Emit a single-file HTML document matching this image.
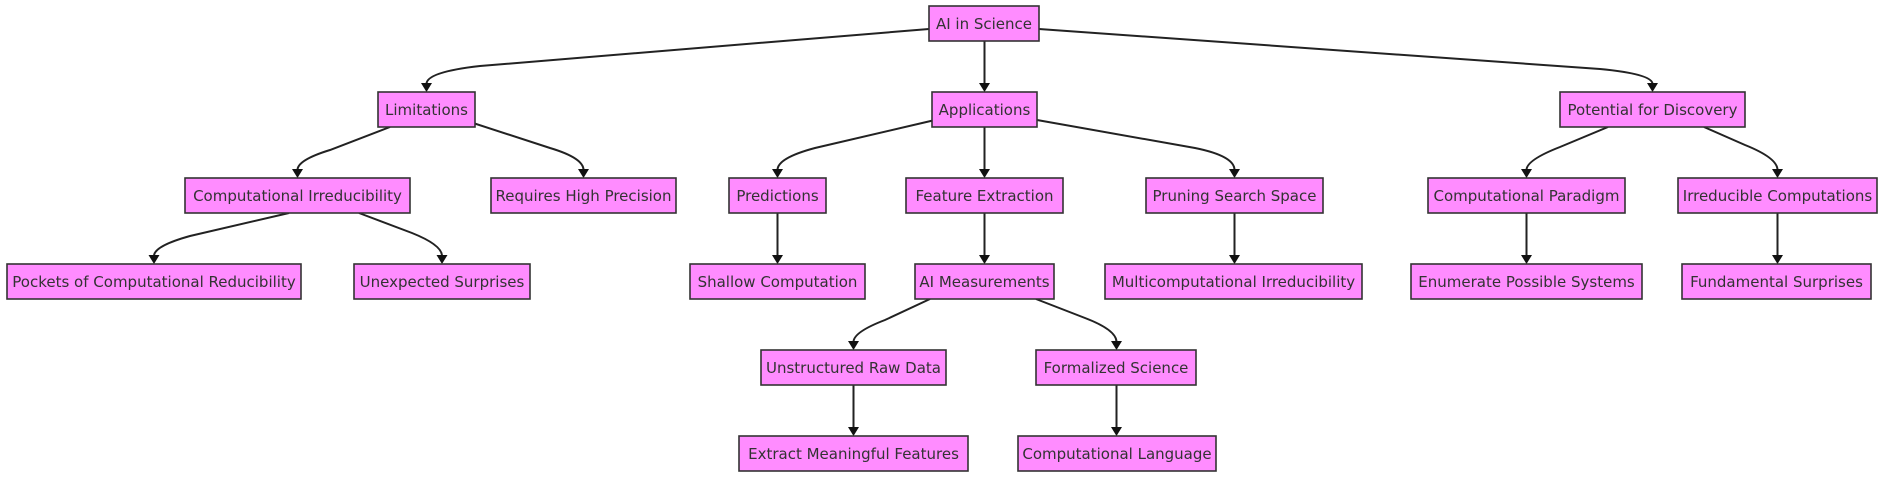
<!DOCTYPE html>
<html><head><meta charset="utf-8"><style>
html,body{margin:0;padding:0;background:#fff;}
svg{display:block;}
text{font-family:"DejaVu Sans","Liberation Sans",sans-serif;font-size:15px;fill:#333;text-anchor:middle;dominant-baseline:central;}
rect{fill:#ff8cff;stroke:#333;stroke-width:1.6;}
path.e{fill:none;stroke:#222;stroke-width:2;}
polygon{fill:#111;}
</style></head><body>
<svg width="1887" height="480" viewBox="0 0 1887 480">
<!-- edges -->
<path class="e" d="M929,29 L480,66 Q426.5,72 426.5,84"/><polygon points="421,83 432,83 426.5,92"/>
<path class="e" d="M1039,29 L1600,69 Q1652.5,74 1652.5,84"/><polygon points="1647,83 1658,83 1652.5,92"/>
<path class="e" d="M984.5,41 L984.5,84"/><polygon points="979,83 990,83 984.5,92"/>

<path class="e" d="M390,127 L330,150 Q297.5,160 297.5,170"/><polygon points="292,169 303,169 297.5,178"/>
<path class="e" d="M470,122 L550,148 Q583.5,158 583.5,170"/><polygon points="578,169 589,169 583.5,178"/>
<path class="e" d="M935,120 L815,148 Q777.5,158 777.5,170"/><polygon points="772,169 783,169 777.5,178"/>
<path class="e" d="M984.5,127 L984.5,170"/><polygon points="979,169 990,169 984.5,178"/>
<path class="e" d="M1037,120 L1195,148 Q1234.5,156 1234.5,170"/><polygon points="1229,169 1240,169 1234.5,178"/>
<path class="e" d="M1608,127 L1560,147 Q1526.5,160 1526.5,170"/><polygon points="1521,169 1532,169 1526.5,178"/>
<path class="e" d="M1704,127 L1745,145 Q1777.5,158 1777.5,170"/><polygon points="1772,169 1783,169 1777.5,178"/>

<path class="e" d="M289,213 L190,236 Q154,246 154,256"/><polygon points="148.5,255 159.5,255 154,264"/>
<path class="e" d="M359,213 L412,233 Q442,245 442,256"/><polygon points="436.5,255 447.5,255 442,264"/>
<path class="e" d="M777.5,213 L777.5,256"/><polygon points="772,255 783,255 777.5,264"/>
<path class="e" d="M984.5,213 L984.5,256"/><polygon points="979,255 990,255 984.5,264"/>
<path class="e" d="M1234.5,213 L1234.5,256"/><polygon points="1229,255 1240,255 1234.5,264"/>
<path class="e" d="M1526.5,213 L1526.5,256"/><polygon points="1521,255 1532,255 1526.5,264"/>
<path class="e" d="M1777.5,213 L1777.5,256"/><polygon points="1772,255 1783,255 1777.5,264"/>

<path class="e" d="M930,299 L885,320 Q853.5,332 853.5,342"/><polygon points="848,341 859,341 853.5,350"/>
<path class="e" d="M1036,299 L1085,318 Q1116.5,330 1116.5,342"/><polygon points="1111,341 1122,341 1116.5,350"/>
<path class="e" d="M853.5,385 L853.5,428"/><polygon points="848,427 859,427 853.5,436"/>
<path class="e" d="M1116.5,385 L1116.5,428"/><polygon points="1111,427 1122,427 1116.5,436"/>

<!-- nodes -->
<rect x="929" y="6" width="110" height="35"/><text x="984" y="24">AI in Science</text>
<rect x="378" y="92" width="97" height="35"/><text x="426.5" y="110">Limitations</text>
<rect x="932" y="92" width="105" height="35"/><text x="984.5" y="110">Applications</text>
<rect x="1560" y="92" width="185" height="35"/><text x="1652.5" y="110">Potential for Discovery</text>

<rect x="185" y="178" width="225" height="35"/><text x="297.5" y="196">Computational Irreducibility</text>
<rect x="491" y="178" width="185" height="35"/><text x="583.5" y="196">Requires High Precision</text>
<rect x="729" y="178" width="97" height="35"/><text x="777.5" y="196">Predictions</text>
<rect x="906" y="178" width="157" height="35"/><text x="984.5" y="196">Feature Extraction</text>
<rect x="1146" y="178" width="177" height="35"/><text x="1234.5" y="196">Pruning Search Space</text>
<rect x="1428" y="178" width="197" height="35"/><text x="1526.5" y="196">Computational Paradigm</text>
<rect x="1678" y="178" width="199" height="35"/><text x="1777.5" y="196">Irreducible Computations</text>

<rect x="7" y="264" width="294" height="35"/><text x="154" y="282">Pockets of Computational Reducibility</text>
<rect x="354" y="264" width="176" height="35"/><text x="442" y="282">Unexpected Surprises</text>
<rect x="690" y="264" width="175" height="35"/><text x="777.5" y="282">Shallow Computation</text>
<rect x="915" y="264" width="139" height="35"/><text x="984.5" y="282">AI Measurements</text>
<rect x="1105" y="264" width="257" height="35"/><text x="1233.5" y="282">Multicomputational Irreducibility</text>
<rect x="1411" y="264" width="231" height="35"/><text x="1526.5" y="282">Enumerate Possible Systems</text>
<rect x="1682" y="264" width="189" height="35"/><text x="1776.5" y="282">Fundamental Surprises</text>

<rect x="761" y="350" width="185" height="35"/><text x="853.5" y="368">Unstructured Raw Data</text>
<rect x="1036" y="350" width="160" height="35"/><text x="1116" y="368">Formalized Science</text>

<rect x="739" y="436" width="229" height="35"/><text x="853.5" y="454">Extract Meaningful Features</text>
<rect x="1018" y="436" width="198" height="35"/><text x="1117" y="454">Computational Language</text>
</svg>
</body></html>
